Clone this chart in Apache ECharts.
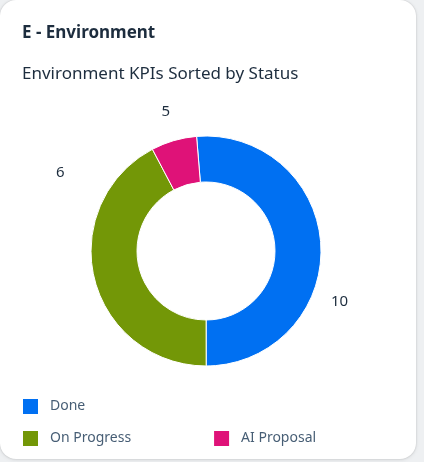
<!DOCTYPE html>
<html>
<head>
<meta charset="utf-8">
<script src="https://cdn.jsdelivr.net/npm/echarts@6/dist/echarts.min.js"></script>
<style>
html,body{margin:0;padding:0;width:424px;height:462px;background:#eef0f2;overflow:hidden;}
#card{position:absolute;left:0;top:0;width:416px;height:459px;background:#fff;border-radius:16px;box-shadow:0 0 2px rgba(0,0,0,0.18),0 1px 4px rgba(0,0,0,0.08);}
#chart{position:absolute;left:0;top:0;width:424px;height:462px;}
</style>
</head>
<body>
<div id="card"></div>
<div id="chart"></div>
<script>
// Data
const categories = ['Done', 'On Progress', 'AI Proposal'];
const sliceValues = [10, 8.25, 1.25];   // slice sizes as drawn
const labelValues = [10, 6, 5];          // numbers printed next to the slices
const colors = ['#0070f2', '#739707', '#df1278'];
const titleText = 'E - Environment';
const subtitleText = 'Environment KPIs Sorted by Status';

const FONT = '"Noto Sans", "Open Sans", sans-serif';
const chart = echarts.init(document.getElementById('chart'), null, {renderer: 'canvas'});

// label nudges (style only)
const labelOffsets = [[-5, 56], [-15, -108], [4, -19]];

chart.setOption({
  animation: false,
  backgroundColor: 'transparent',
  color: colors,
  title: [
    {text: titleText, left: 22, top: 25, padding: 0, textStyle: {fontFamily: FONT, fontSize: 17, fontWeight: 'bold', color: '#1d2d3e'}},
    {text: subtitleText, left: 22, top: 66, padding: 0, textStyle: {fontFamily: FONT, fontSize: 17, fontWeight: 'normal', color: '#1d2d3e'}}
  ],
  legend: [
    {data: [categories[0]], left: 21, top: 397, padding: 0, icon: 'rect', itemWidth: 17, itemHeight: 17, itemGap: 10,
     textStyle: {fontFamily: FONT, fontSize: 14, color: '#475e75', padding: [0, 0, 0, 6]}},
    {data: [categories[1], categories[2]], left: 21, top: 429, padding: 0, icon: 'rect', itemWidth: 17, itemHeight: 17, itemGap: 81,
     textStyle: {fontFamily: FONT, fontSize: 14, color: '#475e75', padding: [0, 0, 0, 6]}}
  ],
  series: [{
    type: 'pie',
    center: [206, 251],
    radius: [69, 115],
    startAngle: 94.7,
    avoidLabelOverlap: false,
    itemStyle: {borderColor: '#fff', borderWidth: 1},
    label: {
      show: true, position: 'outside',
      fontFamily: FONT, fontSize: 15, color: '#1d2d3e',
      formatter: p => String(labelValues[p.dataIndex])
    },
    labelLine: {show: false, length: 10, length2: 0},
    labelLayout: p => ({dx: labelOffsets[p.dataIndex][0], dy: labelOffsets[p.dataIndex][1]}),
    emphasis: {disabled: true},
    data: categories.map((c, i) => ({name: c, value: sliceValues[i]}))
  }]
});
</script>
</body>
</html>
